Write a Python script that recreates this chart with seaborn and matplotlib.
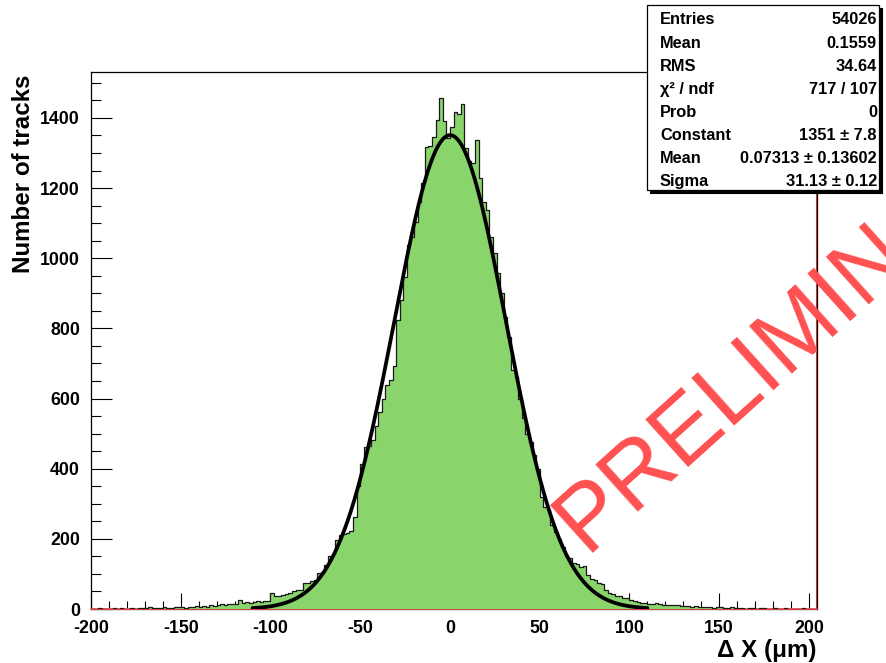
import numpy as np
import pandas as pd
import matplotlib
matplotlib.use("Agg")
import matplotlib.pyplot as plt
from matplotlib.patches import Rectangle
from matplotlib.ticker import MultipleLocator, FixedLocator
from matplotlib.transforms import Affine2D
import seaborn as sns

# ---- data -------------------------------------------------------------
bin_width = 2
x_start = -200

# track counts per 2 um bin, from -200 to 0
counts_left = [
    1, 0, 2, 1, 0, 1, 3, 1, 2, 0, 1, 2, 1, 3, 2,
    4, 6, 3, 2, 4, 5, 3, 4, 6, 5,
    6, 4, 7, 5, 8, 6, 9, 7, 10, 8,
    11, 14, 10, 13, 15,
    14, 26, 17, 19, 18,
    20, 22, 19, 24, 23,
    45, 36, 38, 40, 42,
    46, 52, 55, 54, 73,
    75, 80, 84, 102, 105,
    125, 152, 156, 197, 211,
    214, 216, 221, 262, 352,
    412, 463, 465, 482, 522,
    562, 598, 640, 652, 694,
    824, 880, 947, 1038, 1062,
    1102, 1160, 1214, 1318, 1320,
    1347, 1394, 1456, 1390, 1342,
]
# track counts per 2 um bin, from 0 to 204
counts_right = [
    1375, 1418, 1412, 1440, 1314, 1276, 1271, 1336, 1228, 1161,
    1138, 1062, 1014, 958, 900, 833, 775, 681, 662, 600,
    544, 500, 477, 439, 398,
    320, 290, 282, 240, 220, 200, 178, 152, 146, 132,
    128, 121, 124, 98, 85, 82, 74, 70, 55, 47,
    42, 38, 36, 32, 30, 26, 24, 21, 17, 16,
    15, 14, 16, 13, 12, 11, 12, 10, 11, 9,
    8, 9, 7, 8, 6, 7, 5, 6, 4, 6,
    5, 4, 3, 5, 4, 2, 3, 1, 2, 3,
    1, 2, 3, 1, 0, 2, 1, 0, 2, 1,
    1, 0, 1, 2, 0,
    1, 0,
]

# gaussian fit parameters
fit_constant = 1351
fit_mean = 0.07313
fit_sigma = 31.13
fit_lo, fit_hi = -110, 110

stat_names = ["Entries", "Mean", "RMS", "\u03c7\u00b2 / ndf", "Prob",
              "Constant", "Mean", "Sigma"]
stat_values = ["54026", "0.1559", "34.64", "717 / 107", "0",
               "1351 \u00b1 7.8", "0.07313 \u00b1 0.13602", "31.13 \u00b1 0.12"]

x_ticks = [-200, -150, -100, -50, 0, 50, 100, 150, 200]
y_ticks = [0, 200, 400, 600, 800, 1000, 1200, 1400]

# ---- style ------------------------------------------------------------
sns.set_theme(style="ticks")
plt.rcParams["font.family"] = ["Liberation Sans", "DejaVu Sans"]
plt.rcParams["axes.unicode_minus"] = False
plt.rcParams["text.color"] = "black"
plt.rcParams["xtick.color"] = "black"
plt.rcParams["ytick.color"] = "black"
plt.rcParams["xtick.labelcolor"] = "black"
plt.rcParams["ytick.labelcolor"] = "black"

W, H = 887, 663
fig = plt.figure(figsize=(W / 100, H / 100), dpi=100)
fig.patch.set_facecolor("white")
# pixel coordinates, origin at top-left
pix = Affine2D().scale(1 / W, -1 / H).translate(0, 1) + fig.transFigure

ax = fig.add_axes([91 / W, (H - 609) / H, 726 / W, 537 / H])
ax.set_facecolor("white")

counts = counts_left + counts_right
edges = (x_start + bin_width * np.arange(len(counts) + 1)).tolist()
df = pd.DataFrame({"dx": [e + bin_width / 2 for e in edges[:-1]], "n": counts})

green = "#8ad46c"
red = "#ff5050"

# empty-content reference line along the baseline and the right edge
ax.plot([-200, 204.5], [0, 0], color=red, lw=1.2, zorder=2.6, clip_on=False)
ax.plot([204.5, 204.5], [0, 1531], color="#e04030", lw=1.5, zorder=2.4,
        clip_on=False)

sns.histplot(data=df, x="dx", weights="n", bins=edges, element="step",
             fill=True, color=green, alpha=1, edgecolor="none", linewidth=0,
             ax=ax, zorder=3)
sns.histplot(data=df, x="dx", weights="n", bins=edges, element="step",
             fill=False, color="#1a1a1a", linewidth=0.9, ax=ax, zorder=3.2)

xs = np.linspace(fit_lo, fit_hi, 600)
ys = fit_constant * np.exp(-0.5 * ((xs - fit_mean) / fit_sigma) ** 2)
sns.lineplot(x=xs, y=ys, color="black", linewidth=2.7, estimator=None,
             sort=False, ax=ax, zorder=4)

ax.set_xlim(-200, 204.5)
ax.set_ylim(0, 1531)
ax.set_xlabel("")
ax.set_ylabel("")

ax.xaxis.set_major_locator(FixedLocator(x_ticks))
ax.xaxis.set_minor_locator(MultipleLocator(10))
ax.yaxis.set_major_locator(FixedLocator(y_ticks))
ax.yaxis.set_minor_locator(MultipleLocator(50))
ax.set_xticklabels([str(v) for v in x_ticks])
ax.set_yticklabels([str(v) for v in y_ticks])

ax.tick_params(axis="x", which="major", direction="in", length=11.5, width=0.8,
               pad=8, labelsize=12.8, color="black", labelcolor="black", top=False)
ax.tick_params(axis="x", which="minor", direction="in", length=5.6, width=0.8,
               color="black", top=False)
ax.tick_params(axis="y", which="major", direction="in", length=15, width=0.8,
               pad=8, labelsize=12.8, color="black", labelcolor="black", right=False)
ax.tick_params(axis="y", which="minor", direction="in", length=7.2, width=0.8,
               color="black", right=False)
for lab in ax.get_xticklabels() + ax.get_yticklabels():
    lab.set_fontweight("bold")

for side in ["left", "right", "top", "bottom"]:
    ax.spines[side].set_visible(True)
    ax.spines[side].set_color("black")
    ax.spines[side].set_linewidth(0.9)

# axis titles
fig.text(24, 174, "Number of tracks", transform=pix, rotation=90,
         ha="center", va="center", fontsize=17.4, fontweight="bold")
fig.text(817, 651, "\u0394 X (\u03bcm)", transform=pix, ha="right",
         va="center", fontsize=17.4, fontweight="bold")

# statistics box with shadow
bx0, by0, bx1, by1 = 647, 5, 879, 190
fig.patches.append(Rectangle((bx0 + 3, by0 + 3), bx1 - bx0, by1 - by0,
                             transform=pix, facecolor="black",
                             edgecolor="black", lw=0.8, zorder=5))
fig.patches.append(Rectangle((bx0, by0), bx1 - bx0, by1 - by0,
                             transform=pix, facecolor="white",
                             edgecolor="black", lw=0.9, zorder=6))
row0, row_step = 20, 23.1
for i, (name, val) in enumerate(zip(stat_names, stat_values)):
    yy = row0 + i * row_step
    fig.text(660, yy, name, transform=pix, ha="left", va="center",
             fontsize=11.8, fontweight="bold", zorder=7)
    fig.text(877, yy, val, transform=pix, ha="right", va="center",
             fontsize=11.8, fontweight="bold", zorder=7)

# watermark
fig.text(585, 553, "PRELIMINARY", transform=pix, rotation=42,
         rotation_mode="anchor", ha="left", va="baseline", fontsize=67,
         color=red, fontweight="normal", zorder=8)

fig.savefig("out.png", dpi=100)
